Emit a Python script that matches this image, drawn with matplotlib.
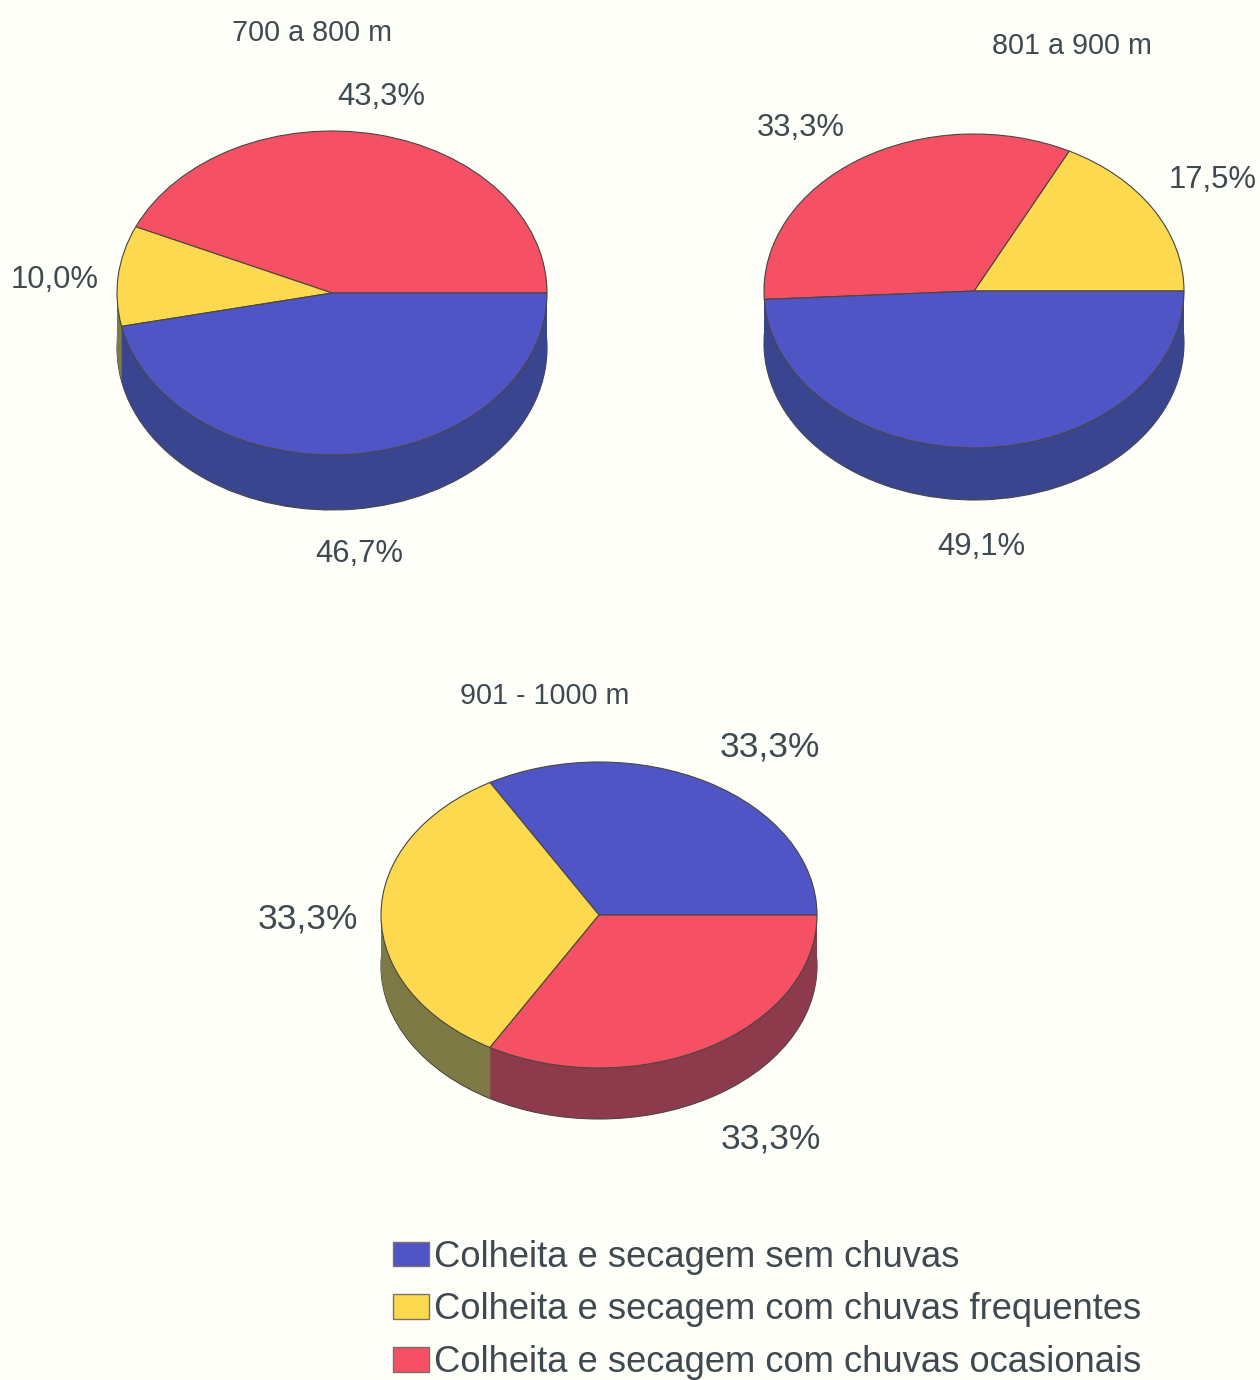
import matplotlib
matplotlib.use("Agg")
import matplotlib.pyplot as plt
from matplotlib.patches import Patch

W, H = 1260, 1380
BG = "#fffffa"
TXT = "#3e4a50"
EDGE = "#4a4640"

blue, yellow, red = "#4f55c4", "#fcd94e", "#f55064"
blue_d, yellow_d, red_d = "#3a4590", "#7d7a45", "#8c3a4c"

labels = ["Colheita e secagem sem chuvas",
          "Colheita e secagem com chuvas frequentes",
          "Colheita e secagem com chuvas ocasionais"]

# values go counter-clockwise from 3 o'clock
vals_700 = [43.3, 10.0, 46.7]
vals_801 = [17.5, 33.3, 49.1]
vals_901 = [33.3, 33.3, 33.3]

cols_700 = [red, yellow, blue]
dark_700 = [red_d, yellow_d, blue_d]
cols_801 = [yellow, red, blue]
dark_801 = [yellow_d, red_d, blue_d]
cols_901 = [blue, yellow, red]
dark_901 = [blue_d, yellow_d, red_d]

plt.rcParams["font.family"] = ["Liberation Sans", "DejaVu Sans"]
fig = plt.figure(figsize=(W / 100, H / 100), dpi=100, facecolor=BG)


def pie3d(vals, cols, dark, cx, cy, rx, ry, depth):
    ax = fig.add_axes([(cx - rx) / W, 1 - (cy + ry + depth) / H,
                       2 * rx / W, (2 * ry + depth) / H])
    dy = depth / ry
    # stack of dark discs from the bottom up makes the side wall
    for i in range(depth, 0, -1):
        lw = 0.8 if i == depth else 0
        ax.pie(vals, colors=dark, center=(0, -i / ry), radius=1, startangle=0,
               counterclock=True, normalize=True,
               wedgeprops=dict(linewidth=lw, edgecolor=EDGE, clip_on=False))
    ax.pie(vals, colors=cols, center=(0, 0), radius=1, startangle=0,
           counterclock=True, normalize=True,
           wedgeprops=dict(linewidth=0.8, edgecolor=EDGE, clip_on=False))
    ax.set_aspect("auto")
    ax.set_xlim(-1, 1)
    ax.set_ylim(-1 - dy, 1)


pie3d(vals_700, cols_700, dark_700, 332, 293, 215, 162, 55)
pie3d(vals_801, cols_801, dark_801, 974, 291, 210, 157, 52)
pie3d(vals_901, cols_901, dark_901, 599, 915, 218, 153, 51)


def put(x, y, s, size):
    fig.text(x / W, 1 - y / H, s, fontsize=size, color=TXT, ha="center", va="center")


put(312, 33, "700 a 800 m", 20.7)
put(1072, 46, "801 a 900 m", 20.7)
put(545, 696, "901 - 1000 m", 20.7)

put(381.5, 97, "43,3%", 22.3)
put(54.5, 280, "10,0%", 22.3)
put(359.5, 554, "46,7%", 22.3)

put(800.5, 128, "33,3%", 22.3)
put(1212.5, 180, "17,5%", 22.3)
put(981.5, 547, "49,1%", 22.3)

put(769.5, 747, "33,3%", 25.5)
put(307.5, 919, "33,3%", 25.5)
put(770.5, 1139, "33,3%", 25.5)

handles = [Patch(facecolor=c, edgecolor="#77726a", linewidth=1) for c in (blue, yellow, red)]
fig.legend(handles, labels, loc="upper left", bbox_to_anchor=(378 / W, 1 - 1225 / H),
           frameon=False, fontsize=26.2, labelcolor=TXT, handlelength=1.0, handleheight=0.66,
           handletextpad=0.15, labelspacing=0.49, borderpad=0, borderaxespad=0.4)

fig.savefig("out.png", dpi=100, facecolor=BG)
